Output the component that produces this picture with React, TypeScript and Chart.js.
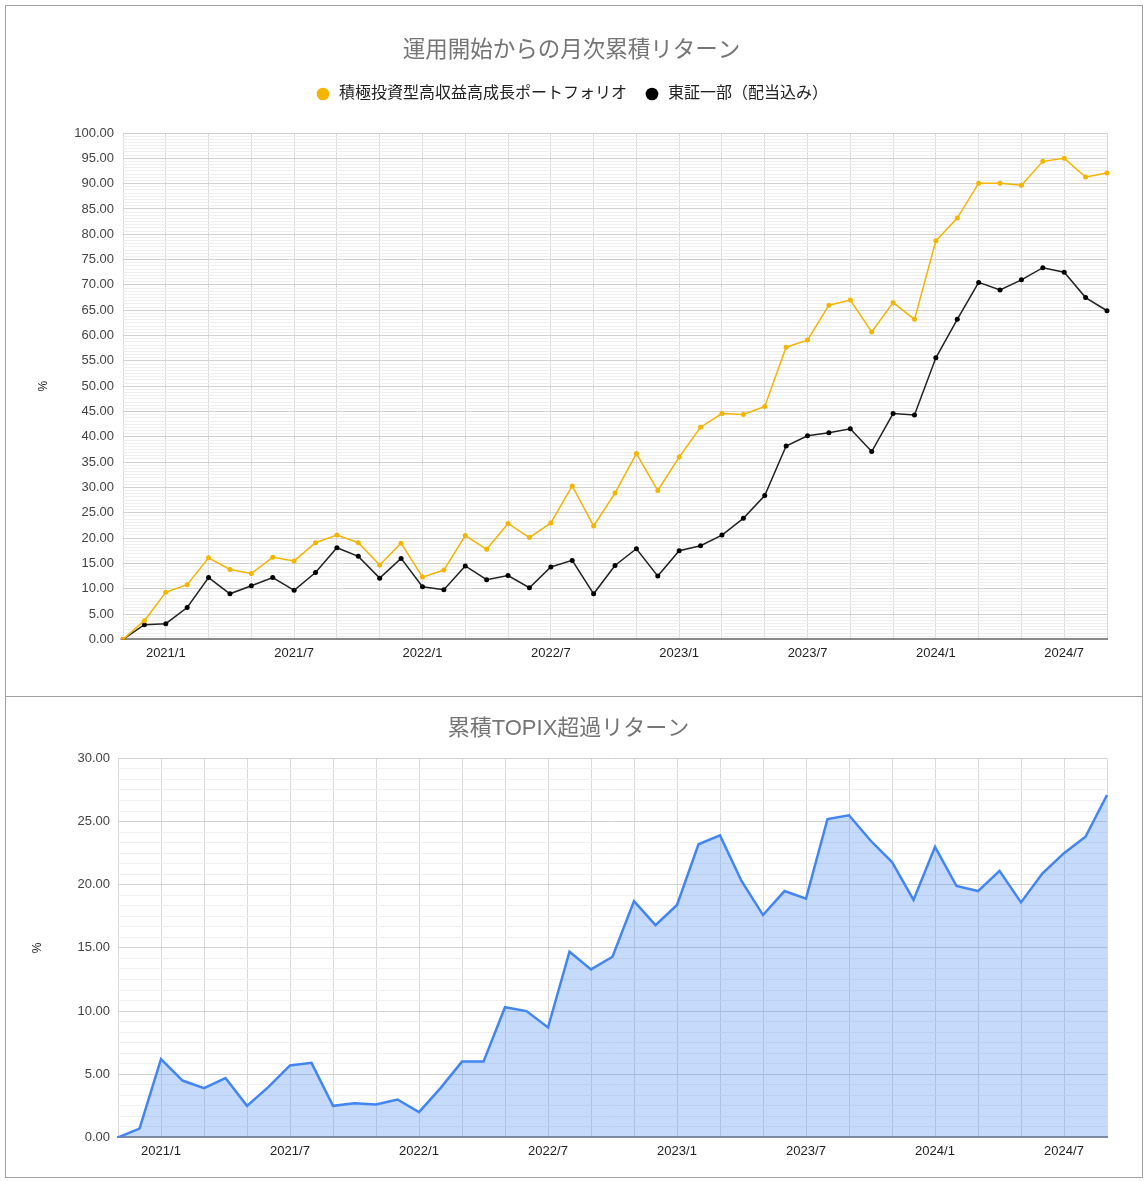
import { useEffect, useRef } from "react";
import Chart from "chart.js/auto";

const months = [
  "2020/11", "2020/12",
  "2021/1", "2021/2", "2021/3", "2021/4", "2021/5", "2021/6", "2021/7", "2021/8", "2021/9", "2021/10", "2021/11", "2021/12",
  "2022/1", "2022/2", "2022/3", "2022/4", "2022/5", "2022/6", "2022/7", "2022/8", "2022/9", "2022/10", "2022/11", "2022/12",
  "2023/1", "2023/2", "2023/3", "2023/4", "2023/5", "2023/6", "2023/7", "2023/8", "2023/9", "2023/10", "2023/11", "2023/12",
  "2024/1", "2024/2", "2024/3", "2024/4", "2024/5", "2024/6", "2024/7", "2024/8", "2024/9",
];

const portfolio = [
  0, 3.7, 9.3, 10.8, 16.1, 13.8, 13.0, 16.2, 15.5, 19.1, 20.6, 19.1, 14.7, 19.0,
  12.3, 13.7, 20.5, 17.8, 22.9, 20.1, 23.0, 30.3, 22.4, 28.9, 36.7, 29.4,
  36.0, 41.9, 44.6, 44.4, 46.0, 57.7, 59.1, 66.0, 67.0, 60.7, 66.5, 63.2,
  78.7, 83.2, 90.1, 90.1, 89.7, 94.4, 95.0, 91.3, 92.1,
];

const topix = [
  0, 2.9, 3.1, 6.3, 12.2, 9.0, 10.6, 12.2, 9.7, 13.2, 18.1, 16.4, 12.1, 16.0,
  10.4, 9.8, 14.5, 11.8, 12.6, 10.2, 14.3, 15.6, 9.0, 14.6, 17.9, 12.5,
  17.5, 18.5, 20.6, 23.9, 28.4, 38.2, 40.2, 40.8, 41.6, 37.1, 44.6, 44.3,
  55.6, 63.2, 70.5, 69.0, 71.0, 73.4, 72.5, 67.5, 64.9,
];

const excess = [
  0, 0.7, 6.2, 4.5, 3.9, 4.7, 2.5, 4.0, 5.7, 5.9, 2.5, 2.7, 2.6, 3.0,
  2.0, 3.9, 6.0, 6.0, 10.3, 10.0, 8.7, 14.7, 13.3, 14.3, 18.7, 16.8,
  18.4, 23.2, 23.9, 20.3, 17.6, 19.5, 18.9, 25.2, 25.5, 23.5, 21.8, 18.8,
  23.0, 19.9, 19.5, 21.1, 18.6, 20.9, 22.5, 23.8, 27.1,
];

const seriesNames = ["積極投資型高収益高成長ポートフォリオ", "東証一部（配当込み）"];
const topTitle = "運用開始からの月次累積リターン";
const bottomTitle = "累積TOPIX超過リターン";

// major gridlines every 5, minor lines between
const majorStep = 5;
const topMax = 100;
const topMinorPerMajor = 8;
const bottomMax = 30;
const bottomMinorPerMajor = 6;

const FONT = '"Liberation Sans", Arial, "Noto Sans CJK JP", sans-serif';

function buildTicks(max: number, perMajor: number) {
  const ticks: { value: number }[] = [];
  const count = (max / majorStep) * perMajor;
  for (let k = 0; k <= count; k++) ticks.push({ value: (k * majorStep) / perMajor });
  return ticks;
}

const isMajor = (v: number) => Math.abs(v / majorStep - Math.round(v / majorStep)) < 1e-9;
const monthOf = (i: number) => Number(months[i].split("/")[1]);

function xScale() {
  return {
    ticks: {
      autoSkip: false,
      maxRotation: 0,
      padding: 6,
      color: "#222",
      font: { family: FONT, size: 13 },
      callback: (_v: unknown, i: number) => {
        const m = monthOf(i);
        return m === 1 || m === 7 ? months[i] : "";
      },
    },
    grid: {
      drawTicks: false,
      color: (ctx: any) => (monthOf(ctx.index) % 2 === 1 ? "#dadada" : "rgba(0,0,0,0)"),
    },
    border: { display: true, color: "#8a8a8a", width: 2 },
  };
}

function yScale(max: number, perMajor: number, width: number, pad: number) {
  return {
    min: 0,
    max,
    afterBuildTicks: (axis: any) => {
      axis.ticks = buildTicks(max, perMajor);
    },
    afterFit: (axis: any) => {
      axis.width = width;
    },
    title: { display: true, text: "%", color: "#222", padding: 0, font: { family: FONT, size: 12 } },
    ticks: {
      autoSkip: false,
      padding: pad,
      color: "#444",
      font: { family: FONT, size: 13 },
      callback: (v: any) => (isMajor(Number(v)) ? Number(v).toFixed(2) : ""),
    },
    grid: {
      drawTicks: false,
      color: (ctx: any) => (isMajor(ctx.tick.value) ? "#d2d2d2" : "#efefef"),
    },
    border: { display: false },
  };
}

const legendGap = {
  id: "legendGap",
  beforeInit(chart: any) {
    const legend = chart.legend;
    if (!legend) return;
    const fit = legend.fit;
    legend.fit = function () {
      fit.call(this);
      this.height += 21;
    };
  },
};

function ReturnChart() {
  const canvasRef = useRef<HTMLCanvasElement | null>(null);
  const chartRef = useRef<Chart | null>(null);

  useEffect(() => {
    if (!canvasRef.current) return;
    if (chartRef.current) chartRef.current.destroy();

    chartRef.current = new Chart(canvasRef.current, {
      type: "line",
      data: {
        labels: months,
        datasets: [
          {
            label: seriesNames[0],
            data: portfolio,
            borderColor: "#f4b400",
            backgroundColor: "#f4b400",
            borderWidth: 1.5,
            pointRadius: 2.5,
            pointBorderWidth: 0,
            pointStyle: "circle",
          },
          {
            label: seriesNames[1],
            data: topix,
            borderColor: "#222222",
            backgroundColor: "#000000",
            borderWidth: 1.5,
            pointRadius: 2.5,
            pointBorderWidth: 0,
            pointStyle: "circle",
          },
        ],
      },
      options: {
        animation: false,
        responsive: true,
        maintainAspectRatio: false,
        layout: { padding: { left: 30, right: 34, top: 0, bottom: 29 } },
        plugins: {
          title: {
            display: true,
            text: topTitle,
            color: "#757575",
            font: { family: FONT, size: 22.5, weight: "normal" },
            padding: { top: 31, bottom: 5 },
          },
          legend: {
            position: "top",
            labels: {
              usePointStyle: true,
              boxWidth: 16,
              boxHeight: 9,
              padding: 17,
              color: "#222",
              font: { family: FONT, size: 16 },
            },
          },
          tooltip: { enabled: false },
        },
        scales: {
          x: xScale() as any,
          y: yScale(topMax, topMinorPerMajor, 87, 9) as any,
        },
      },
      plugins: [legendGap],
    });

    return () => chartRef.current?.destroy();
  }, []);

  return <canvas ref={canvasRef} />;
}

function ExcessChart() {
  const canvasRef = useRef<HTMLCanvasElement | null>(null);
  const chartRef = useRef<Chart | null>(null);

  useEffect(() => {
    if (!canvasRef.current) return;
    if (chartRef.current) chartRef.current.destroy();

    chartRef.current = new Chart(canvasRef.current, {
      type: "line",
      data: {
        labels: months,
        datasets: [
          {
            label: bottomTitle,
            data: excess,
            borderColor: "#4285f4",
            backgroundColor: "rgba(66,133,244,0.3)",
            borderWidth: 2.5,
            pointRadius: 0,
            fill: "origin",
          },
        ],
      },
      options: {
        animation: false,
        responsive: true,
        maintainAspectRatio: false,
        layout: { padding: { left: 24, right: 34, top: 0, bottom: 12 } },
        plugins: {
          title: {
            display: true,
            text: bottomTitle,
            color: "#757575",
            font: { family: FONT, size: 22, weight: "normal" },
            padding: { top: 19, bottom: 16 },
          },
          legend: { display: false },
          tooltip: { enabled: false },
        },
        scales: {
          x: xScale() as any,
          y: yScale(bottomMax, bottomMinorPerMajor, 88, 8) as any,
        },
      },
    });

    return () => chartRef.current?.destroy();
  }, []);

  return <canvas ref={canvasRef} />;
}

export default function App() {
  const panel = {
    position: "absolute" as const,
    left: 5,
    width: 1138,
    boxSizing: "border-box" as const,
    border: "1px solid #a0a0a0",
    background: "#fff",
  };
  return (
    <div style={{ position: "absolute", left: 0, top: 0, width: 1148, height: 1181, background: "#fff" }}>
      <div style={{ ...panel, top: 5, height: 692 }}>
        <div style={{ position: "relative", width: 1135, height: 690 }}>
          <ReturnChart />
        </div>
      </div>
      <div style={{ ...panel, top: 696, height: 482 }}>
        <div style={{ position: "relative", width: 1135, height: 480 }}>
          <ExcessChart />
        </div>
      </div>
    </div>
  );
}
